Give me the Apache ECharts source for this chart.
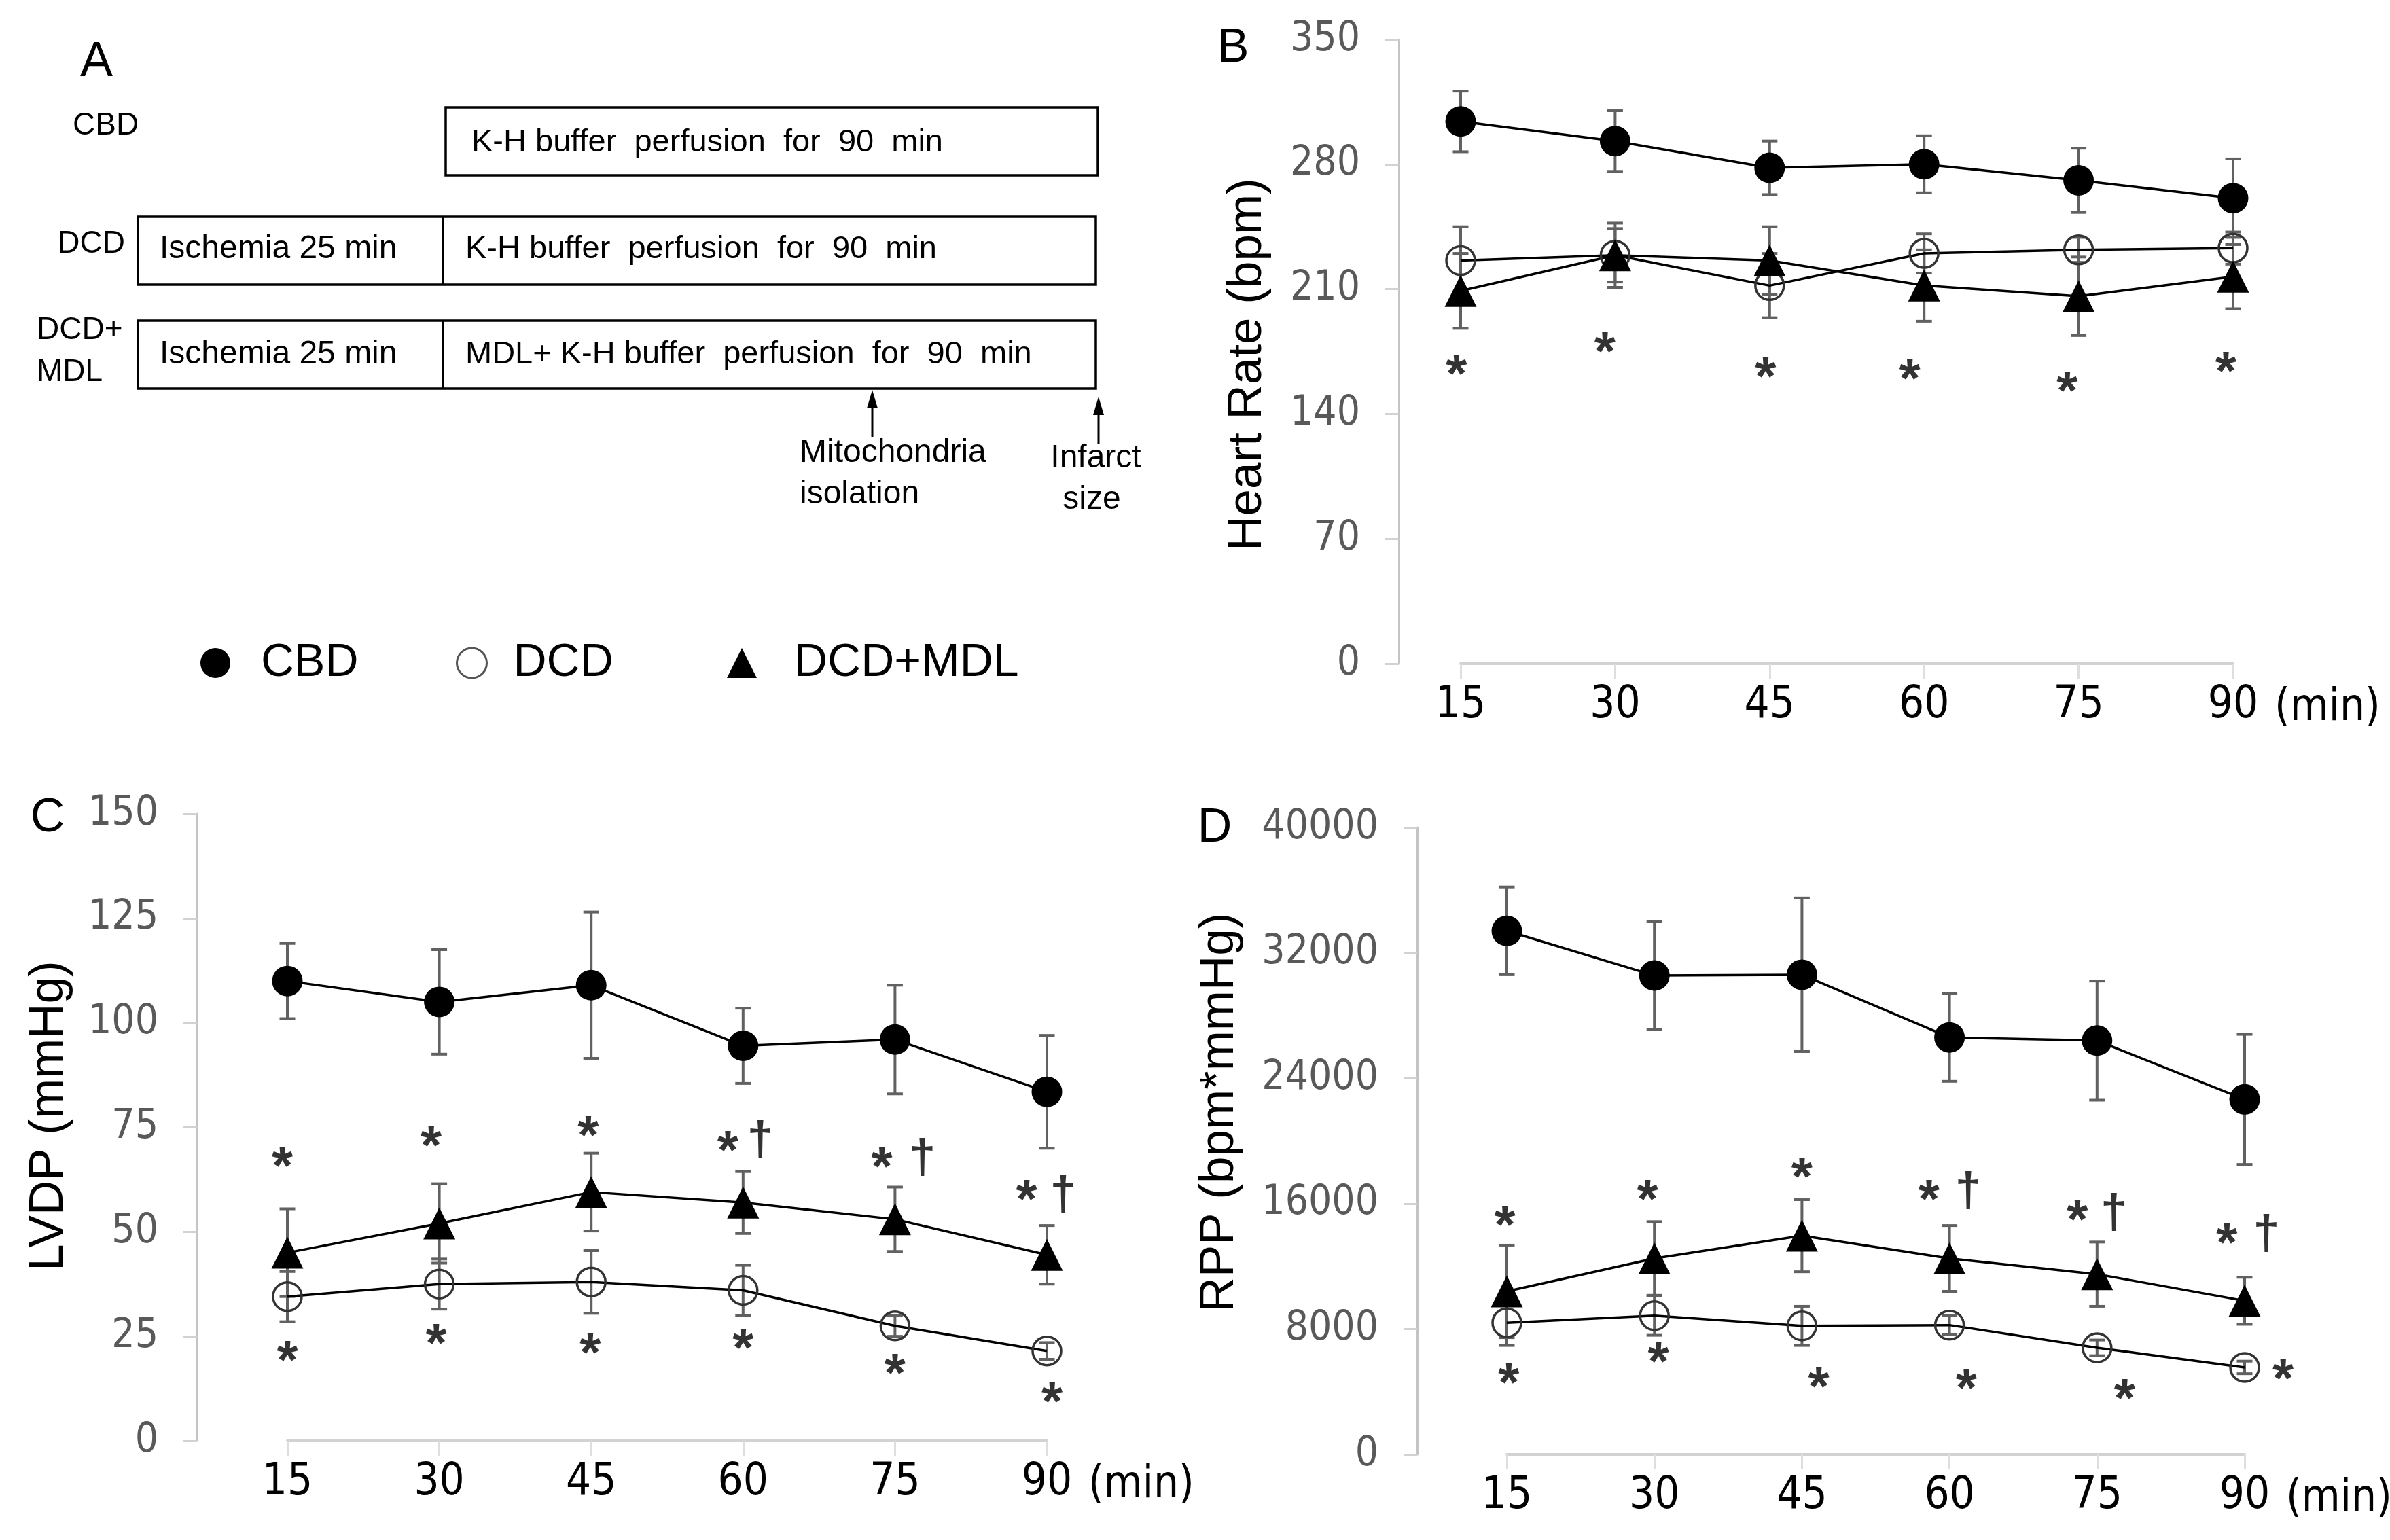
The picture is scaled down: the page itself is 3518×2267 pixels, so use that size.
<!DOCTYPE html>
<html><head><meta charset="utf-8">
<script src="https://cdn.jsdelivr.net/npm/echarts@6/dist/echarts.min.js"></script>
<style>html,body{margin:0;padding:0;background:#fff}#c{width:3518px;height:2267px}</style>
</head><body><div id="c"></div>
<script>
// ---------- data ----------
const times = [15, 30, 45, 60, 75, 90];

// B: Heart rate (bpm)
const hrCBD = [304, 293, 278, 280, 271, 261];
const hrCBDErr = [17, 17, 15, 16, 18, 22];
const hrDCD = [226, 229, 212, 230, 232, 233];
const hrDCDErr = [19, 18, 18, 11, 7, 9];
const hrMDL = [209, 229, 226, 212, 206, 217];
const hrMDLErr = [21, 15, 19, 20, 22, 18];
const hrStarX = [14.6, 29, 44.6, 58.6, 73.9, 89.3];
const hrStarY = [167.5, 180, 166, 165, 158, 169];

// C: LVDP (mmHg)
const lvCBD = [110, 105, 109, 94.5, 96, 83.5];
const lvCBDErr = [9, 12.5, 17.5, 9, 13, 13.5];
const lvDCD = [34.5, 37.5, 38, 36, 27.5, 21.5];
const lvDCDErr = [6, 6, 7.5, 6, 2.5, 2];
const lvMDL = [45, 52, 59.5, 57, 53, 44.5];
const lvMDLErr = [10.5, 9.5, 9.3, 7.4, 7.7, 7];
const lvStarUpX = [14.5, 29.2, 44.7, 58.5, 73.7, 88];
const lvStarUpY = [68, 72.8, 75.2, 71.6, 67.7, 60];
const lvDagX = [61.7, 77.7, 91.6];
const lvDagY = [71.6, 67.3, 58.5];
const lvStarLoX = [15, 29.7, 44.9, 60, 75, 90.5];
const lvStarLoY = [21.5, 25.6, 23.2, 24.4, 18.4, 11.6];

// D: RPP (bpm*mmHg)
const rppCBD = [33400, 30550, 30600, 26600, 26400, 22650];
const rppCBDErr = [2800, 3450, 4900, 2800, 3800, 4150];
const rppDCD = [8400, 8850, 8200, 8250, 6800, 5550];
const rppDCDErr = [1450, 1250, 1250, 600, 500, 400];
const rppMDL = [10400, 12500, 13950, 12500, 11500, 9800];
const rppMDLErr = [2950, 2350, 2300, 2100, 2050, 1500];
const rppStarUpX = [14.8, 29.3, 45, 57.9, 73, 88.2];
const rppStarUpY = [15200, 16850, 18300, 16850, 15550, 14100];
const rppDagX = [61.9, 76.7, 92.2];
const rppDagY = [16700, 15300, 13950];
const rppStarLoX = [15.2, 30.4, 46.7, 61.7, 77.8, 93.9];
const rppStarLoY = [5150, 6500, 4900, 4800, 4150, 5400];

// ---------- styling ----------
const NARROW = "'Liberation Sans Narrow', 'Arial Narrow', 'DejaVu Sans Condensed', sans-serif";
const REG = "'Liberation Sans', Arial, sans-serif";

const pairs = (xs, ys) => xs.map((x, i) => [x, ys[i]]);
const triples = (ys, es) => times.map((t, i) => [t, ys[i], es[i]]);

function errRender(params, api) {
  const x = api.value(0), y = api.value(1), e = api.value(2);
  const top = api.coord([x, y + e]), bot = api.coord([x, y - e]);
  const h = 11.5;
  const st = { stroke: '#616161', lineWidth: 4 };
  return { type: 'group', children: [
    { type: 'line', shape: { x1: top[0], y1: top[1], x2: bot[0], y2: bot[1] }, style: st },
    { type: 'line', shape: { x1: top[0] - h, y1: top[1], x2: top[0] + h, y2: top[1] }, style: st },
    { type: 'line', shape: { x1: bot[0] - h, y1: bot[1], x2: bot[0] + h, y2: bot[1] }, style: st }
  ]};
}

function errSeries(gi, ys, es) {
  return { type: 'custom', xAxisIndex: gi, yAxisIndex: gi, renderItem: errRender,
    data: triples(ys, es), encode: { x: 0, y: 1 }, clip: false, z: 1, silent: true };
}

const symStyle = {
  CBD: { symbol: 'circle', symbolSize: 45, itemStyle: { color: '#000' } },
  DCD: { symbol: 'circle', symbolSize: 42, itemStyle: { color: 'rgba(0,0,0,0)', borderColor: '#333', borderWidth: 3.5 } },
  'DCD+MDL': { symbol: 'triangle', symbolSize: 47, itemStyle: { color: '#000' } }
};

function lineSeries(gi, name, ys) {
  return Object.assign({ type: 'line', name, xAxisIndex: gi, yAxisIndex: gi,
    data: pairs(times, ys), lineStyle: { color: '#000', width: 3.5 }, clip: false, z: 3,
    animation: false, emphasis: { disabled: true } }, symStyle[name]);
}

function markSeries(gi, xs, ys, txt, size, offY) {
  return { type: 'scatter', xAxisIndex: gi, yAxisIndex: gi, data: pairs(xs, ys),
    symbol: 'circle', symbolSize: 1, itemStyle: { color: 'rgba(0,0,0,0)' }, clip: false, z: 4, silent: true,
    label: { show: true, position: 'inside', formatter: txt, color: '#000', fontSize: size,
      fontWeight: 'bold', fontFamily: REG, offset: [0, offY] } };
}

function mkX(gi) {
  return { type: 'value', gridIndex: gi, min: 15, max: 90, interval: 15,
    axisLine: { onZero: false, lineStyle: { color: '#d2d2d2', width: 4 } },
    axisTick: { show: true, length: 22, lineStyle: { color: '#dedede', width: 3 } },
    axisLabel: { color: '#000', fontSize: 65, fontFamily: NARROW, margin: 30 },
    splitLine: { show: false } };
}

function mkY(gi, max, interval, name, offset, nameGap, namePad) {
  return { type: 'value', gridIndex: gi, min: 0, max, interval, offset,
    axisLine: { show: true, onZero: false, lineStyle: { color: '#c4c4c4', width: 3 } },
    axisTick: { show: true, length: 20, lineStyle: { color: '#d2d2d2', width: 3 } },
    axisLabel: { color: '#595959', fontSize: 60, fontFamily: NARROW, margin: 57, formatter: v => String(v) },
    splitLine: { show: false },
    name, nameLocation: 'middle', nameGap,
    nameTextStyle: { color: '#000', fontSize: 71, fontFamily: REG, padding: namePad } };
}

function txt(x, y, text, size, align, family) {
  return { type: 'text', x, y, silent: true,
    style: { text, fontSize: size, fontFamily: family || REG, fill: '#000', align: align || 'left', verticalAlign: 'middle' } };
}
function box(x, y, w, h) {
  return { type: 'rect', shape: { x, y, width: w, height: h }, silent: true,
    style: { fill: 'none', stroke: '#000', lineWidth: 3.5 } };
}
function vline(x, y1, y2, w) {
  return { type: 'line', shape: { x1: x, y1, x2: x, y2 }, silent: true, style: { stroke: '#000', lineWidth: w || 3.5 } };
}
function arrow(x, tip, tail) {
  return [vline(x, tip + 20, tail, 3),
    { type: 'polygon', shape: { points: [[x, tip], [x - 8, tip + 27], [x + 8, tip + 27]] }, silent: true, style: { fill: '#000' } }];
}

const graphics = [
  txt(142, 92, 'A', 72, 'center'),
  txt(107, 185, 'CBD', 46),
  box(656, 158, 960, 100),
  txt(694, 210, 'K-H buffer  perfusion  for  90  min', 47),
  txt(184, 359, 'DCD', 46, 'right'),
  box(203, 319, 1410, 100), vline(652, 319, 419),
  txt(235, 367, 'Ischemia 25 min', 48),
  txt(685, 367, 'K-H buffer  perfusion  for  90  min', 47),
  txt(54, 486, 'DCD+', 46),
  txt(54, 548, 'MDL', 46),
  box(203, 472, 1410, 100), vline(652, 472, 572),
  txt(235, 522, 'Ischemia 25 min', 48),
  txt(685, 522, 'MDL+ K-H buffer  perfusion  for  90  min', 47),
  ...arrow(1284, 574, 644),
  ...arrow(1617, 584, 654),
  txt(1177, 667, 'Mitochondria', 48),
  txt(1177, 728, 'isolation', 48),
  txt(1613, 675, 'Infarct', 48, 'center'),
  txt(1607, 736, 'size', 48, 'center'),
  txt(1815, 72, 'B', 70, 'center'),
  txt(70, 1205, 'C', 70, 'center'),
  txt(1788, 1220, 'D', 70, 'center')
];

function legendFor(name, iconCenter, textStart, itemStyle, icon) {
  const w = 44;
  return { left: iconCenter - w / 2, top: 937, itemWidth: w, itemHeight: 44, selectedMode: false,
    data: [{ name, icon, itemStyle }],
    textStyle: { fontSize: 68, fontFamily: REG, color: '#000', padding: [0, 0, 0, textStart - (iconCenter + w / 2 + 5)] } };
}

const option = {
  animation: false,
  backgroundColor: '#fff',
  graphic: graphics,
  legend: [
    legendFor('CBD', 312, 379, { color: '#000', borderWidth: 0 }, 'circle'),
    legendFor('DCD', 688, 749, { color: '#fff', borderColor: '#555', borderWidth: 3 }, 'circle'),
    legendFor('DCD+MDL', 1087, 1164, { color: '#000', borderWidth: 0 }, 'triangle')
  ],
  grid: [
    { left: 2150, top: 58, width: 1137, height: 919 },
    { left: 423, top: 1198, width: 1118, height: 923 },
    { left: 2218, top: 1218, width: 1086, height: 923 }
  ],
  xAxis: [mkX(0), mkX(1), mkX(2)],
  yAxis: [
    mkY(0, 350, 70, 'Heart Rate (bpm)', 91, 187, [0, 38, 0, 0]),
    mkY(1, 150, 25, 'LVDP (mmHg)', 133, 182, [0, 0, 0, 34]),
    mkY(2, 40000, 8000, 'RPP (bpm*mmHg)', 132, 255, [0, 0, 0, 84])
  ],
  series: [
    errSeries(0, hrCBD, hrCBDErr), errSeries(0, hrDCD, hrDCDErr), errSeries(0, hrMDL, hrMDLErr),
    lineSeries(0, 'CBD', hrCBD), lineSeries(0, 'DCD', hrDCD), lineSeries(0, 'DCD+MDL', hrMDL),
    markSeries(0, hrStarX, hrStarY, '*', 80, 18),

    errSeries(1, lvCBD, lvCBDErr), errSeries(1, lvDCD, lvDCDErr), errSeries(1, lvMDL, lvMDLErr),
    lineSeries(1, 'CBD', lvCBD), lineSeries(1, 'DCD', lvDCD), lineSeries(1, 'DCD+MDL', lvMDL),
    markSeries(1, lvStarUpX, lvStarUpY, '*', 80, 18),
    markSeries(1, lvDagX, lvDagY, '†', 70, 0),
    markSeries(1, lvStarLoX, lvStarLoY, '*', 80, 18),

    errSeries(2, rppCBD, rppCBDErr), errSeries(2, rppDCD, rppDCDErr), errSeries(2, rppMDL, rppMDLErr),
    lineSeries(2, 'CBD', rppCBD), lineSeries(2, 'DCD', rppDCD), lineSeries(2, 'DCD+MDL', rppMDL),
    markSeries(2, rppStarUpX, rppStarUpY, '*', 80, 18),
    markSeries(2, rppDagX, rppDagY, '†', 70, 0),
    markSeries(2, rppStarLoX, rppStarLoY, '*', 80, 18)
  ]
};

const chart = echarts.init(document.getElementById('c'), null, { renderer: 'canvas' });
chart.setOption(option);

// "(min)" unit text placed to the right of the last x tick label of each panel
const minTexts = [0, 1, 2].map(gi => {
  const p = chart.convertToPixel({ gridIndex: gi }, [90, 0]);
  return txt(p[0] + 61, p[1] + 66, '(min)', 65, 'left', NARROW);
});
chart.setOption({ graphic: graphics.concat(minTexts) });
</script>
</body></html>
